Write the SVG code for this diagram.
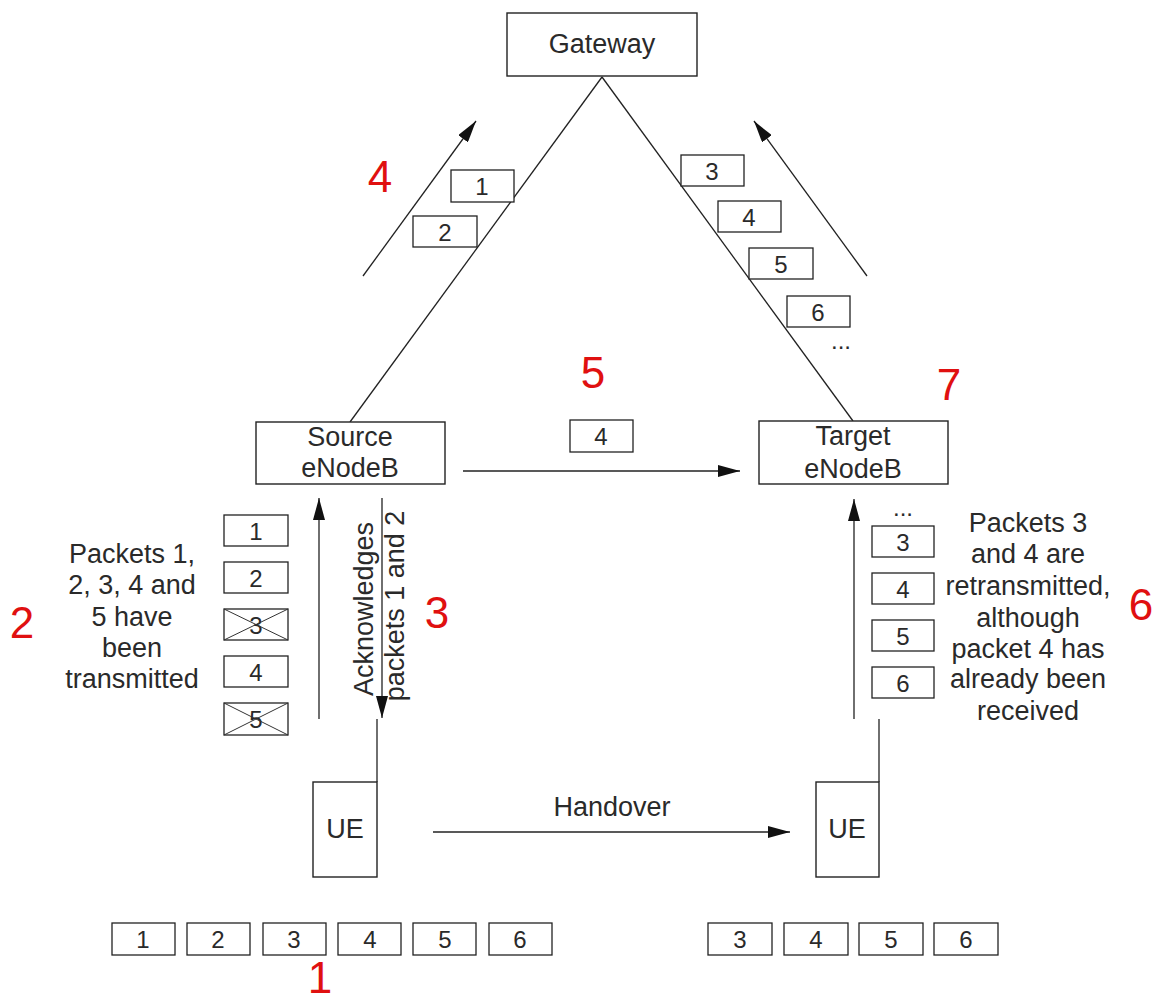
<svg xmlns="http://www.w3.org/2000/svg" width="1157" height="995" viewBox="0 0 1157 995">
  <style>
    .node { fill: #fff; stroke: #222; stroke-width: 1.4; }
    .pkt { fill: #fff; stroke: #222; stroke-width: 1.3; }
    .line { fill: none; stroke: #222; stroke-width: 1.3; }
    .arrow { fill: none; stroke: #222; stroke-width: 1.3; marker-end: url(#head); }
    .cross { stroke: #333; stroke-width: 1; }
    text { font-family: "Liberation Sans", Arial, sans-serif; fill: #2a2a2a; text-anchor: middle; }
    .lbl { font-size: 27px; }
    .num { font-size: 24px; }
    .red { font-size: 44px; fill: #e01010; }
  </style>
  <defs>
    <marker id="head" markerUnits="userSpaceOnUse" markerWidth="22" markerHeight="12" refX="22" refY="6" orient="auto">
      <path d="M0,0 L22,6 L0,12 Z" fill="#111"/>
    </marker>
  </defs>

  <!-- connectors -->
  <g id="connectors">
    <line class="line" x1="602" y1="77" x2="350" y2="422"/>
    <line class="line" x1="602" y1="77" x2="853" y2="421"/>
    <line class="arrow" x1="363" y1="276" x2="476" y2="121"/>
    <line class="arrow" x1="867" y1="276" x2="754" y2="121"/>
    <line class="arrow" x1="463" y1="471" x2="740" y2="471"/>
    <line class="arrow" x1="319" y1="719" x2="319" y2="498"/>
    <line class="arrow" x1="382" y1="498" x2="382" y2="718"/>
    <line class="line" x1="377" y1="719" x2="377" y2="782"/>
    <line class="arrow" x1="854" y1="719" x2="854" y2="499"/>
    <line class="line" x1="879" y1="719" x2="879" y2="782"/>
    <line class="arrow" x1="433" y1="832" x2="790" y2="832"/>
  </g>

  <g id="gateway">
    <rect class="node" x="507" y="13" width="190" height="63"/>
    <text class="lbl" x="602" y="53">Gateway</text>
  </g>

  <g id="source-enodeb">
    <rect class="node" x="256" y="422" width="189" height="62"/>
    <text class="lbl" x="350" y="446">Source</text>
    <text class="lbl" x="350" y="477">eNodeB</text>
  </g>

  <g id="target-enodeb">
    <rect class="node" x="759" y="421" width="189" height="63"/>
    <text class="lbl" x="853" y="445">Target</text>
    <text class="lbl" x="853" y="478">eNodeB</text>
  </g>

  <g id="ue-source">
    <rect class="node" x="313" y="782" width="64" height="95"/>
    <text class="lbl" x="345" y="838">UE</text>
  </g>

  <g id="ue-target">
    <rect class="node" x="816" y="782" width="63" height="95"/>
    <text class="lbl" x="847" y="838">UE</text>
  </g>

  <!-- packets on the source uplink -->
  <g id="uplink-source">
    <rect class="pkt" x="451" y="170" width="63" height="32"/>
    <text class="num" x="482" y="195">1</text>
    <rect class="pkt" x="413" y="216" width="64" height="31"/>
    <text class="num" x="445" y="241">2</text>
  </g>

  <!-- packets on the target uplink -->
  <g id="uplink-target">
    <rect class="pkt" x="681" y="155" width="63" height="31"/>
    <text class="num" x="712" y="180">3</text>
    <rect class="pkt" x="718" y="201" width="63" height="31"/>
    <text class="num" x="749" y="226">4</text>
    <rect class="pkt" x="749" y="248" width="64" height="31"/>
    <text class="num" x="781" y="273">5</text>
    <rect class="pkt" x="787" y="296" width="63" height="31"/>
    <text class="num" x="818" y="321">6</text>
    <text class="num" x="841" y="349">...</text>
  </g>

  <!-- forwarded packet between eNodeBs -->
  <g id="forwarded">
    <rect class="pkt" x="570" y="420" width="63" height="32"/>
    <text class="num" x="601" y="445">4</text>
  </g>

  <!-- packets sent by the source eNodeB -->
  <g id="downlink-source">
    <rect class="pkt" x="224" y="515" width="64" height="31"/>
    <text class="num" x="256" y="540">1</text>
    <rect class="pkt" x="224" y="562" width="64" height="31"/>
    <text class="num" x="256" y="587">2</text>
    <rect class="pkt" x="224" y="609" width="64" height="31"/>
    <text class="num" x="256" y="634">3</text>
    <line class="cross" x1="224" y1="609" x2="288" y2="640"/>
    <line class="cross" x1="224" y1="640" x2="288" y2="609"/>
    <rect class="pkt" x="224" y="656" width="64" height="31"/>
    <text class="num" x="256" y="681">4</text>
    <rect class="pkt" x="224" y="703" width="64" height="32"/>
    <text class="num" x="256" y="728">5</text>
    <line class="cross" x1="224" y1="703" x2="288" y2="735"/>
    <line class="cross" x1="224" y1="735" x2="288" y2="703"/>
  </g>

  <!-- packets sent by the target eNodeB -->
  <g id="downlink-target">
    <text class="num" x="903" y="516">...</text>
    <rect class="pkt" x="872" y="526" width="62" height="31"/>
    <text class="num" x="903" y="551">3</text>
    <rect class="pkt" x="872" y="573" width="62" height="31"/>
    <text class="num" x="903" y="598">4</text>
    <rect class="pkt" x="872" y="620" width="62" height="31"/>
    <text class="num" x="903" y="645">5</text>
    <rect class="pkt" x="872" y="667" width="62" height="31"/>
    <text class="num" x="903" y="692">6</text>
  </g>

  <!-- notes -->
  <g id="note-transmitted">
    <text class="lbl" x="132" y="563">Packets 1,</text>
    <text class="lbl" x="132" y="594">2, 3, 4 and</text>
    <text class="lbl" x="132" y="626">5 have</text>
    <text class="lbl" x="132" y="657">been</text>
    <text class="lbl" x="132" y="688">transmitted</text>
  </g>

  <g id="note-ack">
    <text class="lbl" transform="translate(373,609) rotate(-90)">Acknowledges</text>
    <text class="lbl" transform="translate(404,606) rotate(-90)">packets 1 and 2</text>
  </g>

  <g id="note-retransmitted">
    <text class="lbl" x="1028" y="532">Packets 3</text>
    <text class="lbl" x="1028" y="563">and 4 are</text>
    <text class="lbl" x="1028" y="595">retransmitted,</text>
    <text class="lbl" x="1028" y="627">although</text>
    <text class="lbl" x="1028" y="658">packet 4 has</text>
    <text class="lbl" x="1028" y="688">already been</text>
    <text class="lbl" x="1028" y="720">received</text>
  </g>

  <g id="note-handover">
    <text class="lbl" x="612" y="816">Handover</text>
  </g>

  <!-- packet queues at the UE -->
  <g id="queue-source">
    <rect class="pkt" x="112" y="923" width="63" height="32"/>
    <text class="num" x="143" y="948">1</text>
    <rect class="pkt" x="187" y="923" width="63" height="32"/>
    <text class="num" x="218" y="948">2</text>
    <rect class="pkt" x="263" y="923" width="63" height="32"/>
    <text class="num" x="294" y="948">3</text>
    <rect class="pkt" x="338" y="923" width="63" height="32"/>
    <text class="num" x="370" y="948">4</text>
    <rect class="pkt" x="413" y="923" width="63" height="32"/>
    <text class="num" x="445" y="948">5</text>
    <rect class="pkt" x="489" y="923" width="63" height="32"/>
    <text class="num" x="520" y="948">6</text>
  </g>

  <g id="queue-target">
    <rect class="pkt" x="708" y="923" width="64" height="32"/>
    <text class="num" x="740" y="948">3</text>
    <rect class="pkt" x="784" y="923" width="64" height="32"/>
    <text class="num" x="816" y="948">4</text>
    <rect class="pkt" x="859" y="923" width="64" height="32"/>
    <text class="num" x="891" y="948">5</text>
    <rect class="pkt" x="934" y="923" width="64" height="32"/>
    <text class="num" x="966" y="948">6</text>
  </g>

  <!-- step numbers -->
  <g id="steps">
    <text class="red" x="320" y="993">1</text>
    <text class="red" x="22" y="638">2</text>
    <text class="red" x="437" y="628">3</text>
    <text class="red" x="380" y="192">4</text>
    <text class="red" x="593" y="388">5</text>
    <text class="red" x="1141" y="620">6</text>
    <text class="red" x="949" y="400">7</text>
  </g>
</svg>
